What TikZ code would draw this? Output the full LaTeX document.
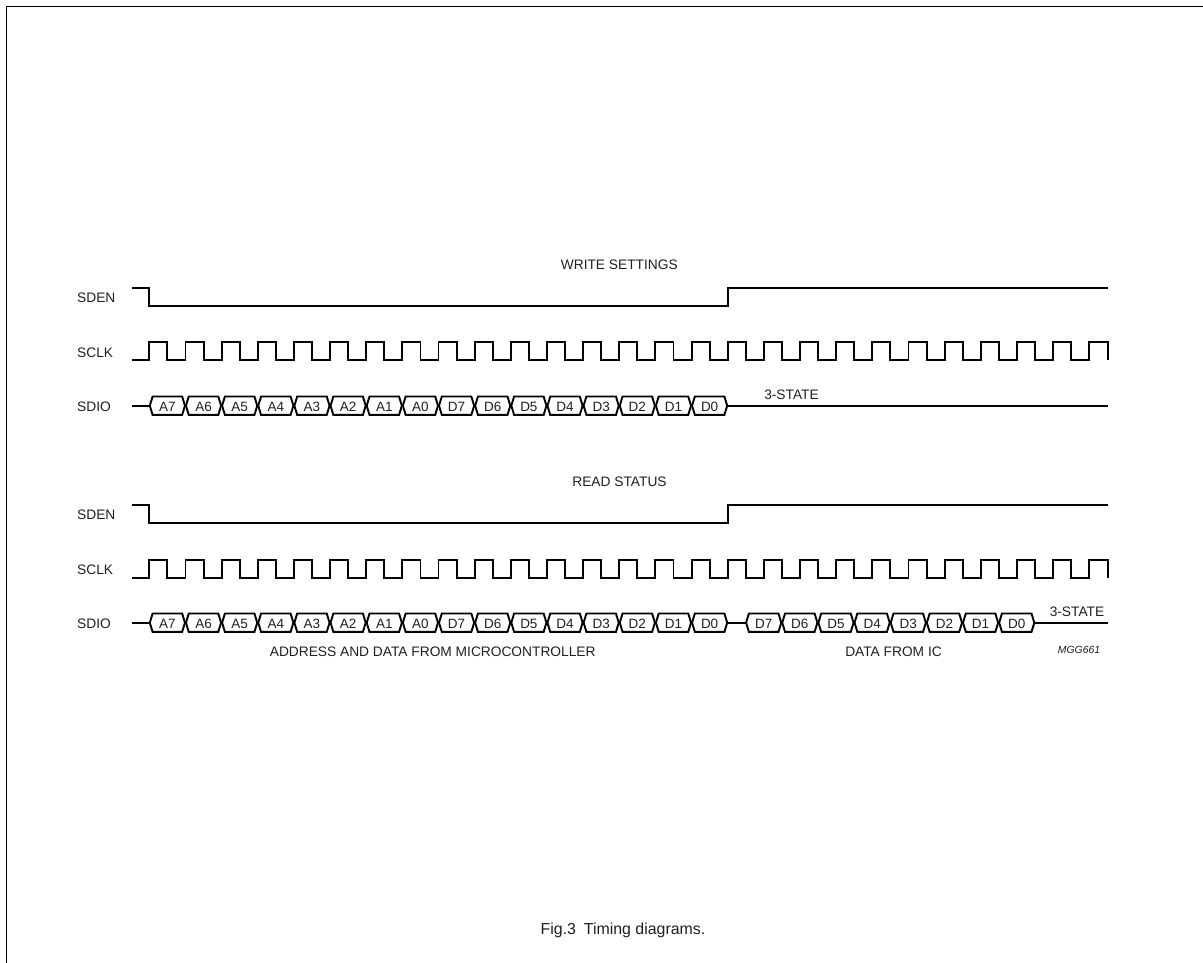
\documentclass[tikz,border=0pt]{standalone}
\usepackage{fontspec}
\setmainfont{Liberation Sans}
\newcommand{\HexBox}[4]{% name, left x, y, text
  \pgfmathsetmacro{\xl}{#2}
  \pgfmathsetmacro{\xr}{#2+36.15}
  \draw[sig] (\xl+0.5,#3) -- (\xl+3.3,#3-9.2) -- (\xr-3.3,#3-9.2) -- (\xr-0.5,#3) -- (\xr-3.3,#3+9.2) -- (\xl+3.3,#3+9.2) -- cycle;
  \node[hexlab] (#1) at ({(\xl+\xr)/2},#3+5.4) {#4};
}
\newcommand{\ClockWave}[3]{% low y, high y, name prefix
  \coordinate (#3start) at (131.7,#1);
  \coordinate (#3end) at (1107.7,#1);
  \draw[sig] (#3start)
    \foreach \k in {0,...,25} {
      -- ({149.3+36.15*\k},#1) -- ({149.3+36.15*\k},#2) -- ({167.4+36.15*\k},#2) -- ({167.4+36.15*\k},#1) }
    -- (1089.3,#1) -- (1089.3,#2) -- (1107.7,#2) -- (#3end);
}
\newcommand{\EnableWave}[3]{% low y, high y, name prefix
  \coordinate (#3start) at (131.7,#2);
  \coordinate (#3fall) at (149.3,#2);
  \coordinate (#3rise) at (728.2,#2);
  \coordinate (#3end) at (1107.7,#2);
  \draw[sig] (#3start) -- (#3fall) -- (149.3,#1) -- (728.2,#1) -- (#3rise) -- (#3end);
}
\tikzset{
  sig/.style={line width=1.9pt, black, line join=miter},
  lab/.style={inner sep=0pt, font=\fontsize{13.75}{16}\selectfont, text=black!88},
  hexlab/.style={lab, anchor=base, font=\fontsize{13.5}{16}\selectfont},
  frameline/.style={line width=1.7pt, black},
}
\begin{document}
\begin{tikzpicture}[x=1pt,y=-1pt]
\useasboundingbox (0,0) rectangle (1203,963);
\coordinate (fa) at (6.5,963);
\coordinate (fb) at (6.5,6.5);
\coordinate (fc) at (1203,6.5);
\draw[frameline] (fa) -- (fb) -- (fc);

\node[lab] (t1) at (619.3,265) {WRITE SETTINGS};
\node[lab] (t2) at (619.5,482) {READ STATUS};

\node[lab,anchor=west] (l1) at (77,297.5) {SDEN};
\node[lab,anchor=west] (l2) at (77,352.5) {SCLK};
\node[lab,anchor=west] (l3) at (77,407) {SDIO};
\node[lab,anchor=west] (l4) at (77,514.5) {SDEN};
\node[lab,anchor=west] (l5) at (77,569.5) {SCLK};
\node[lab,anchor=west] (l6) at (77,624) {SDIO};

\EnableWave{306}{288}{ea}
\ClockWave{360.3}{342.3}{ca}
\EnableWave{523.3}{505}{eb}
\ClockWave{578}{560}{cb}

% first SDIO
\coordinate (dastart) at (131.7,405.7);
\coordinate (dahex) at (150.2,405.7);
\draw[sig] (dastart) -- (dahex);
\foreach \k/\t in {0/A7,1/A6,2/A5,3/A4,4/A3,5/A2,6/A1,7/A0,8/D7,9/D6,10/D5,11/D4,12/D3,13/D2,14/D1,15/D0}{
  \HexBox{da\k}{149.3+36.15*\k}{405.7}{\t}
}
\coordinate (datail) at (727.0,405.7);
\coordinate (daend) at (1107.7,405.7);
\draw[sig] (datail) -- (daend);
\node[lab] (s1) at (791.5,394.5) {3-STATE};

% second SDIO
\coordinate (dbstart) at (131.7,622.7);
\coordinate (dbhex) at (150.2,622.7);
\draw[sig] (dbstart) -- (dbhex);
\foreach \k/\t in {0/A7,1/A6,2/A5,3/A4,4/A3,5/A2,6/A1,7/A0,8/D7,9/D6,10/D5,11/D4,12/D3,13/D2,14/D1,15/D0}{
  \HexBox{db\k}{149.3+36.15*\k}{622.7}{\t}
}
\coordinate (dbmida) at (727.0,622.7);
\coordinate (dbmidb) at (746.5,622.7);
\draw[sig] (dbmida) -- (dbmidb);
\foreach \k/\t in {0/D7,1/D6,2/D5,3/D4,4/D3,5/D2,6/D1,7/D0}{
  \HexBox{dc\k}{745.6+36.15*\k}{622.7}{\t}
}
\coordinate (dctail) at (1034.4,622.7);
\coordinate (dcend) at (1107.7,622.7);
\draw[sig] (dctail) -- (dcend);
\node[lab] (s2) at (1077,612) {3-STATE};

\node[lab] (n1) at (432.7,652) {ADDRESS AND DATA FROM MICROCONTROLLER};
\node[lab] (n2) at (893.5,652) {DATA FROM IC};
\node[lab,font=\fontsize{10.4}{12}\selectfont\itshape] (n3) at (1079,650) {MGG661};
\node[lab,font=\fontsize{15.9}{18}\selectfont] (cap) at (623,930.5) {Fig.3\hspace{0.5em}Timing diagrams.};
\end{tikzpicture}
\end{document}
